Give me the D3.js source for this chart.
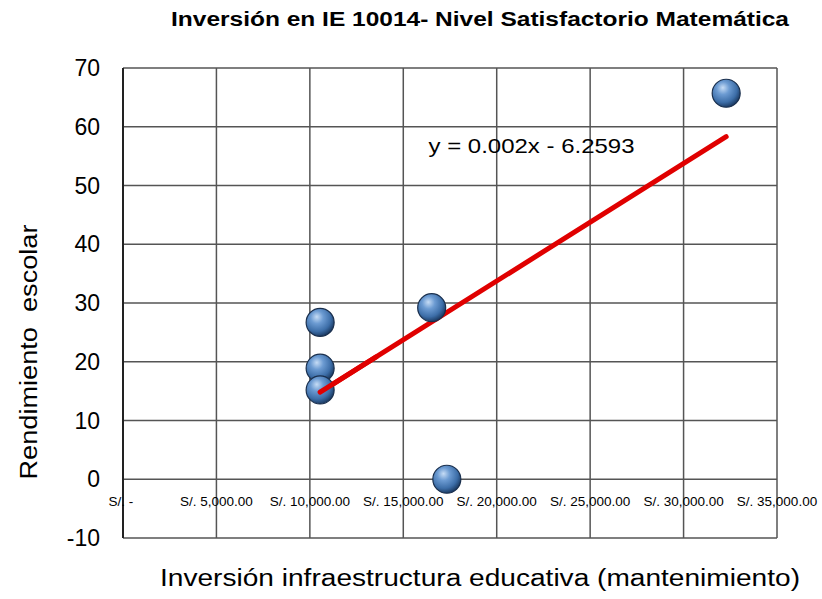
<!DOCTYPE html>
<html>
<head>
<meta charset="utf-8">
<script src="https://cdn.jsdelivr.net/npm/d3@7"></script>
<style>
  html, body { margin: 0; padding: 0; background: #fff; overflow: hidden; }
  svg { display: block; font-family: "Liberation Sans", Arial, sans-serif; }
</style>
</head>
<body>
<svg id="chart" width="822" height="599"></svg>
<script>
// Inversion (S/.) vs rendimiento escolar
const inversion = [10550, 10550, 10550, 16520, 17330, 32280];
const rendimiento = [26.7, 18.9, 15.2, 29.2, 0, 65.7];
const xTicks = [0, 5000, 10000, 15000, 20000, 25000, 30000, 35000];
const yTicks = [-10, 0, 10, 20, 30, 40, 50, 60, 70];
const trendSlope = 0.002;
const trendIntercept = -6.2593;
const trendLabel = 'y = 0.002x - 6.2593';

const svg = d3.select('#chart');
const margin = { top: 68, right: 45, bottom: 61, left: 123 };
const width = 822, height = 599;

const x = d3.scaleLinear().domain([0, 35000]).range([margin.left, width - margin.right]);
const y = d3.scaleLinear().domain([-10, 70]).range([height - margin.bottom, margin.top]);

// sphere look for bubbles
const defs = svg.append('defs');
const grad = defs.append('radialGradient')
    .attr('id', 'ball')
    .attr('cx', '40%').attr('cy', '35%').attr('r', '65%')
    .attr('fx', '38%').attr('fy', '30%');
grad.append('stop').attr('offset', '0%').attr('stop-color', '#c6dcf5');
grad.append('stop').attr('offset', '35%').attr('stop-color', '#6c9bd2');
grad.append('stop').attr('offset', '75%').attr('stop-color', '#3d6ea8');
grad.append('stop').attr('offset', '100%').attr('stop-color', '#1d3d66');

// Grid
svg.append('g').selectAll('line')
    .data(yTicks)
    .join('line')
    .attr('x1', x(0)).attr('x2', x(35000))
    .attr('y1', d => y(d)).attr('y2', d => y(d))
    .attr('stroke', '#555').attr('stroke-width', 1.5);
svg.append('g').selectAll('line')
    .data(xTicks)
    .join('line')
    .attr('x1', d => x(d)).attr('x2', d => x(d))
    .attr('y1', y(70)).attr('y2', y(-10))
    .attr('stroke', d => d === 0 ? '#222' : '#555')
    .attr('stroke-width', d => d === 0 ? 2 : 1.5);

// Y axis labels
svg.append('g').selectAll('text')
    .data(yTicks)
    .join('text')
    .attr('x', x(0) - 23)
    .attr('y', d => y(d) + 8)
    .attr('text-anchor', 'end')
    .attr('font-size', 23)
    .attr('fill', '#000')
    .text(d => d);

// X tick labels sit along the zero line
const fmt = d => d === 0 ? 'S/. -' : 'S/. ' + d3.format(',.2f')(d);
svg.append('g').selectAll('text')
    .data(xTicks)
    .join('text')
    .attr('x', d => x(d) - (d === 0 ? 2 : 0))
    .attr('y', y(0) + 27)
    .attr('text-anchor', 'middle')
    .attr('font-size', 13.5)
    .attr('fill', '#000')
    .text(fmt);

// Trendline
const x0 = d3.min(inversion), x1 = d3.max(inversion);
svg.append('line')
    .attr('x1', x(x0)).attr('y1', y(trendSlope * x0 + trendIntercept))
    .attr('x2', x(x1)).attr('y2', y(trendSlope * x1 + trendIntercept))
    .attr('stroke', '#e00000')
    .attr('stroke-width', 5)
    .attr('stroke-linecap', 'round');

// Bubbles
const pts = inversion.map((v, i) => ({ x: v, y: rendimiento[i] }));
svg.append('g').selectAll('circle')
    .data(pts)
    .join('circle')
    .attr('cx', d => x(d.x))
    .attr('cy', d => y(d.y))
    .attr('r', 14)
    .attr('fill', 'url(#ball)')
    .attr('stroke', '#1a2f4d')
    .attr('stroke-width', 1.2);

// redraw trendline start over the lowest bubble
svg.append('line')
    .attr('x1', x(x0)).attr('y1', y(trendSlope * x0 + trendIntercept))
    .attr('x2', x(x0 + 3000)).attr('y2', y(trendSlope * (x0 + 3000) + trendIntercept))
    .attr('stroke', '#e00000')
    .attr('stroke-width', 5)
    .attr('stroke-linecap', 'round');

// Equation
svg.append('text')
    .attr('x', x(16350))
    .attr('y', y(55.5))
    .attr('font-size', 21)
    .attr('textLength', 206)
    .attr('lengthAdjust', 'spacingAndGlyphs')
    .attr('fill', '#000')
    .text(trendLabel);

// Title
svg.append('text')
    .attr('x', 480).attr('y', 26)
    .attr('text-anchor', 'middle')
    .attr('font-size', 20)
    .attr('font-weight', 'bold')
    .attr('textLength', 618)
    .attr('lengthAdjust', 'spacingAndGlyphs')
    .text('Inversión en IE 10014- Nivel Satisfactorio Matemática');

// Axis titles
svg.append('text')
    .attr('x', 480).attr('y', 586)
    .attr('text-anchor', 'middle')
    .attr('font-size', 23)
    .attr('textLength', 640)
    .attr('lengthAdjust', 'spacingAndGlyphs')
    .text('Inversión infraestructura educativa (mantenimiento)');

svg.append('text')
    .attr('transform', 'translate(37,352) rotate(-90)')
    .attr('text-anchor', 'middle')
    .attr('font-size', 23)
    .attr('textLength', 255)
    .attr('lengthAdjust', 'spacingAndGlyphs')
    .style('white-space', 'pre')
    .text('Rendimiento  escolar');
</script>
</body>
</html>
